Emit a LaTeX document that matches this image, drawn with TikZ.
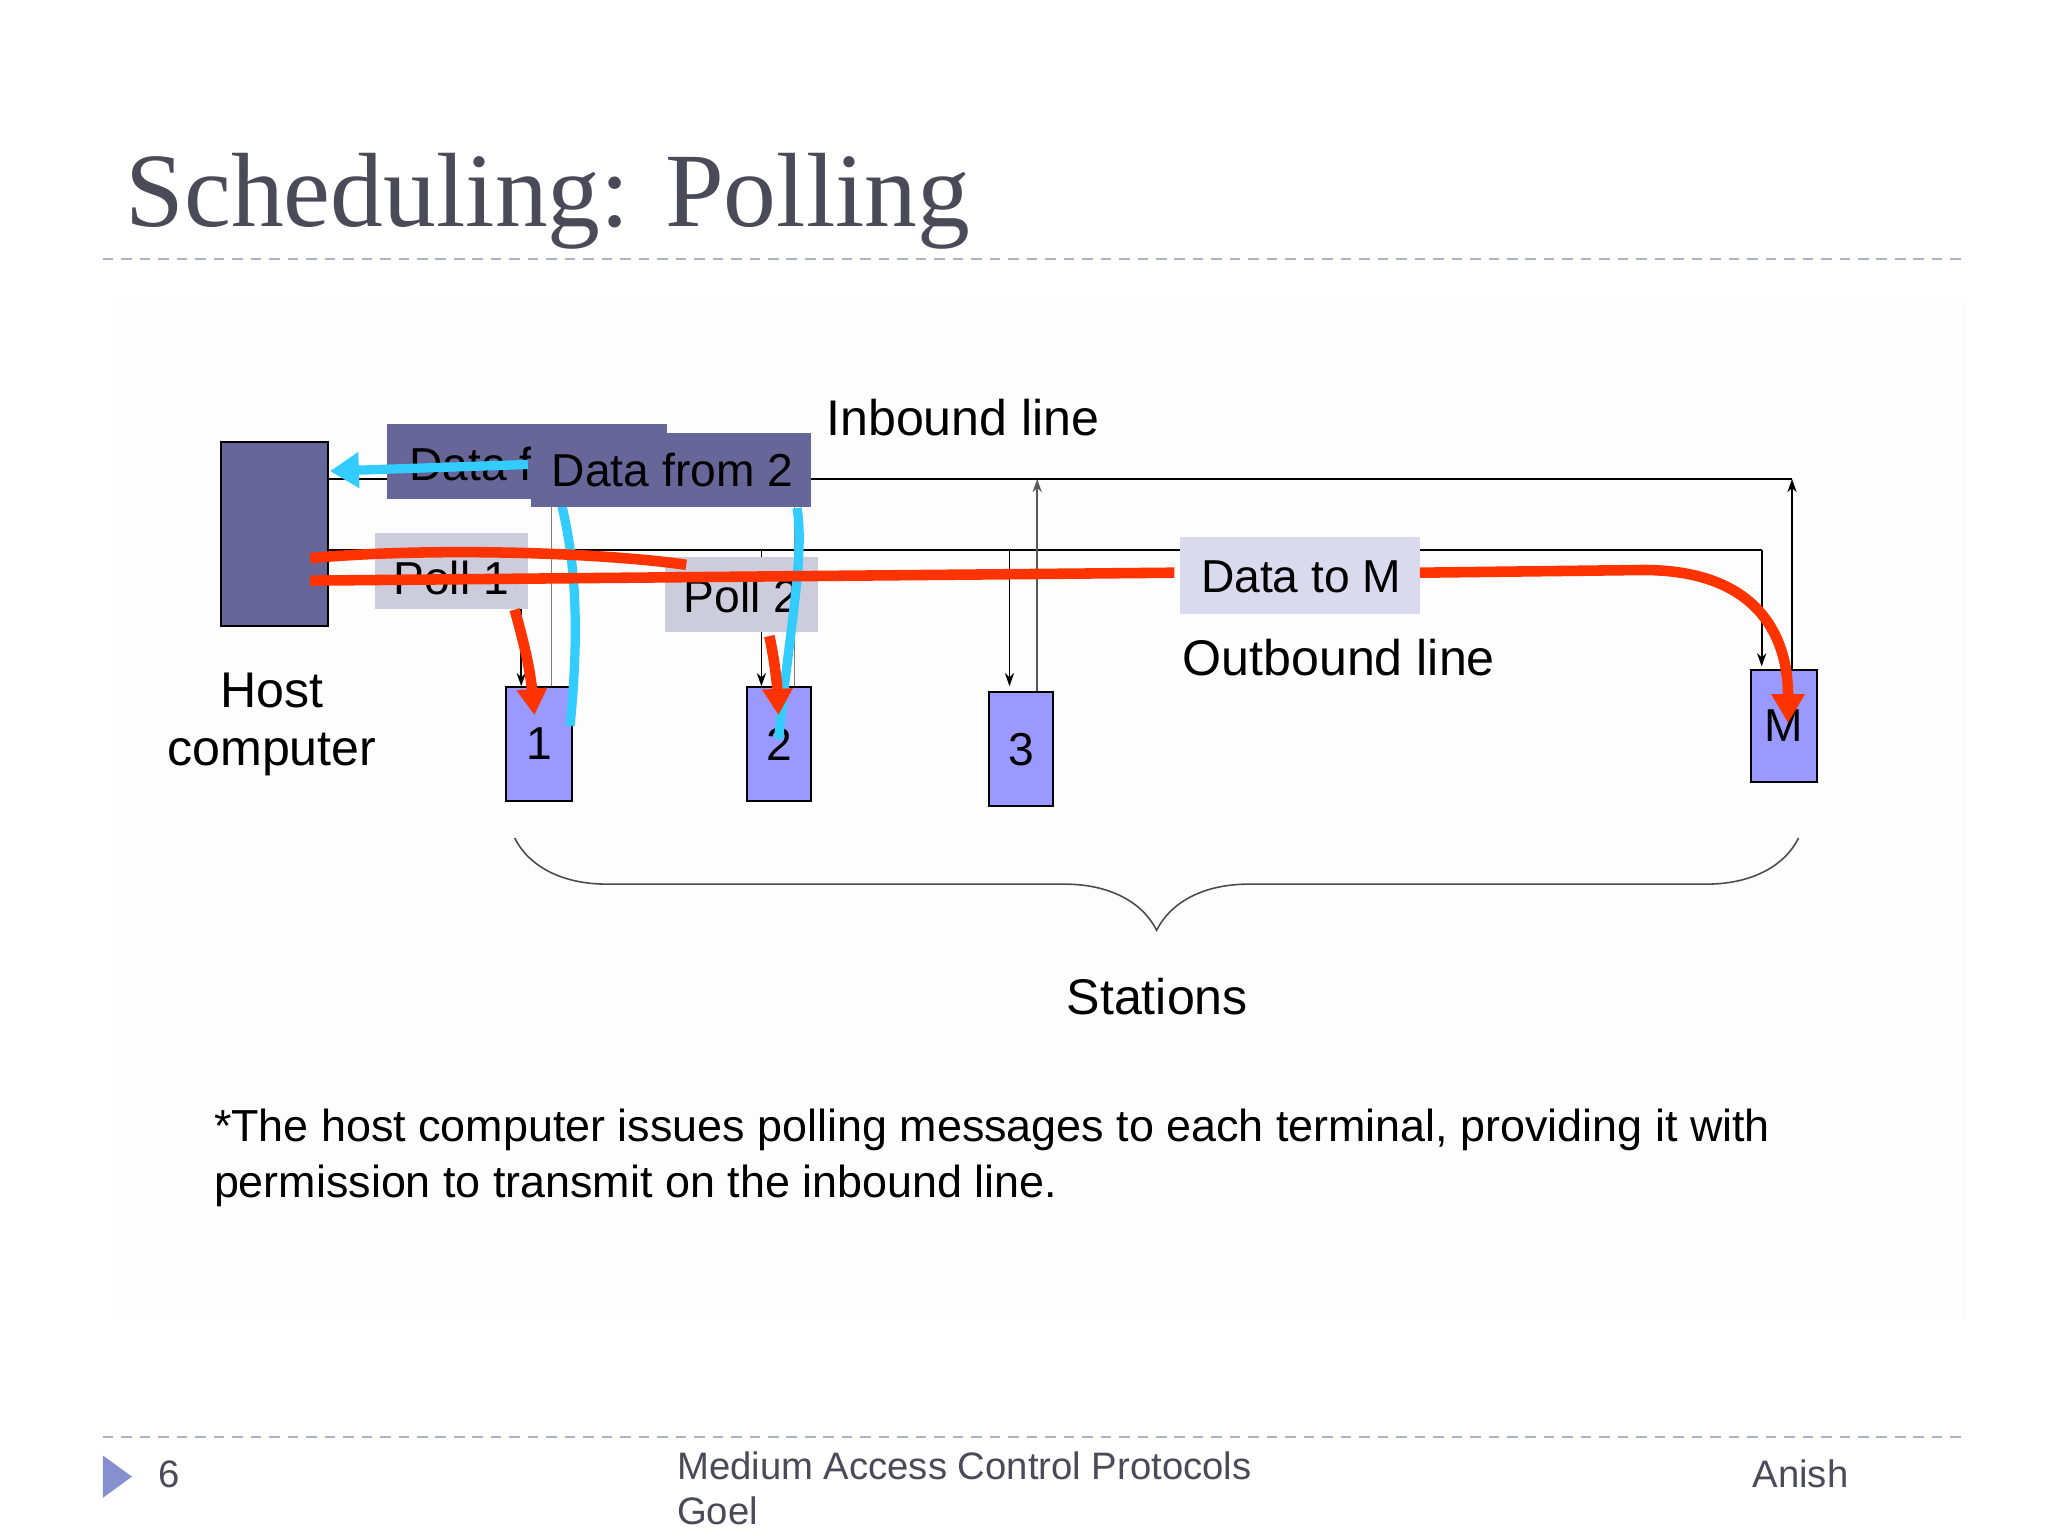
\documentclass[tikz,border=0pt]{standalone}
\usepackage{fontspec}
\setmainfont{Liberation Sans}
\newfontfamily\titlefont{Liberation Serif}
\usetikzlibrary{arrows.meta,decorations.pathreplacing}
\definecolor{hostc}{HTML}{666699}
\definecolor{stc}{HTML}{9999FF}
\definecolor{pollc}{HTML}{CCCCDD}
\definecolor{redc}{HTML}{FF3300}
\definecolor{cyanc}{HTML}{33CCFF}
\definecolor{dashc}{HTML}{A8B4C4}
\definecolor{titlec}{HTML}{4A4A58}
\begin{document}
\begin{tikzpicture}[x=1pt,y=-1pt,
  box/.style={draw=black,line width=1.5pt,inner sep=0pt,anchor=north west},
  lbl/.style={inner sep=0pt,anchor=north west},
  txt/.style={font=\fontsize{35}{40}\selectfont},
  btxt/.style={font=\fontsize{38}{46}\selectfont},
  ln/.style={line width=1.3pt},
  arr/.style={ln,-{Stealth[length=10pt,width=7pt]}},
  red/.style={redc,line width=8pt},
  cy/.style={cyanc,line width=7pt}]
\useasboundingbox (0,0) rectangle (1552,1164);
\fill[white] (0,0) rectangle (1552,1164);
\fill[black!0.8] (85,225) rectangle (1490,1000);
% title
\node[anchor=base west,inner sep=0pt,text=titlec,font=\titlefont\fontsize{80}{86}\selectfont] (title) at (95,172) {Scheduling: Polling};
\draw[dashc,line width=1.5pt,dash pattern=on 8pt off 6pt] (78,196) -- (1490,196);
% host
\node[box,fill=hostc,minimum width=81,minimum height=140] (host) at (167,334) {};
% stations
\node[box,fill=stc,minimum width=50,minimum height=86] (s1) at (383,520) {};
\node[txt] at (s1.center) {1};
\node[box,fill=stc,minimum width=49,minimum height=86] (s2) at (565,520) {};
\node[txt] at (s2.center) {2};
\node[box,fill=stc,minimum width=48,minimum height=86] (s3) at (749,524) {};
\node[txt] at (s3.center) {3};
\node[box,fill=stc,minimum width=50,minimum height=85] (sM) at (1326,507) {};
\node[txt] at (sM.center) {M};
% lines
\coordinate (inE) at (1358,363);
\coordinate (outE) at (1335,417);
\draw[ln] (host.east |- 0,363) -- (inE);
\draw[ln] (host.east |- 0,417) -- (outE);
\draw[ln,gray] (418,363) -- (418,520);
\draw[ln,gray] (602,363) -- (602,520);
\draw[arr,gray!70!black] (s3.north -| 786,0) -- (786,363);
\draw[arr] (sM.north -| 1358,0) -- (inE);
\draw[arr] (395,417) -- (395,520);
\draw[arr] (577,417) -- (577,520);
\draw[arr] (765,417) -- (765,520);
\draw[arr] (outE) -- (1335,505);
% labels
\node[lbl,fill=hostc,minimum width=212,minimum height=57] (df1) at (293,321) {};
\node[anchor=west,txt,inner sep=0pt] at (310,352) {Data f};
\node[lbl,fill=pollc,minimum width=116,minimum height=57] (p1) at (284,404) {};
\node[anchor=west,txt,inner sep=0pt] at (298,438) {Poll 1};
\node[lbl,fill=pollc,minimum width=116,minimum height=57] (p2) at (504,422) {};
\node[anchor=west,txt,inner sep=0pt] at (518,452) {Poll 2};
% cyan arrows
\draw[cy,-{Triangle[length=22pt,width=26pt]}] (400,352) -- (250,357);
\draw[cy] (432,550) .. controls (440,470) and (435,420) .. (425,380);
\draw[cy] (590,560) .. controls (598,480) and (610,420) .. (604,385);
\node[lbl,fill=hostc,minimum width=212,minimum height=56] (df2) at (402,328) {};
\node[anchor=west,txt,inner sep=0pt] at (418,356) {Data from 2};
% red
\draw[red] (235,423) .. controls (320,415) and (450,418) .. (520,428);
\draw[red] (235,440) -- (890,434);
\node[lbl,fill=pollc!80!stc!60,minimum width=182,minimum height=58] (dm) at (894,407) {};
\node[anchor=west,txt,inner sep=0pt] at (910,437) {Data to M};
\draw[red,-{Triangle[length=22pt,width=24pt]}] (1076,434) -- (1240,432) .. controls (1330,430) and (1355,480) .. (1355,548);
\draw[red,-{Triangle[length=20pt,width=22pt]}] (390,462) .. controls (398,490) and (402,510) .. (405,542);
\draw[red,-{Triangle[length=20pt,width=22pt]}] (583,482) .. controls (587,500) and (589,520) .. (590,542);
% texts
\node[btxt,align=center] (hc) at (206,549) {Host\\[-2pt]computer};
\node[btxt,anchor=base west,inner sep=0pt] (il) at (626,330) {Inbound line};
\node[btxt,anchor=base west,inner sep=0pt] (ol) at (896,512) {Outbound line};
\draw[decorate,decoration={brace,amplitude=70pt,aspect=0.5,mirror},line width=1.2pt,gray!60!black] (390,635) -- (1363,635);
\node[btxt] (stn) at (877,755) {Stations};
\node[anchor=north west,inner sep=0pt,font=\fontsize{34}{43}\selectfont,align=left] (desc) at (162,840) {*The host computer issues polling messages to each terminal, providing it with\\permission to transmit on the inbound line.};
% footer
\draw[dashc,line width=1.5pt,dash pattern=on 8pt off 6pt] (78,1089) -- (1490,1089);
\fill[dashc!80!blue] (78,1103) -- (100,1119) -- (78,1135) -- cycle;
\node[anchor=base west,inner sep=0pt,font=\fontsize{29}{36}\selectfont,text=titlec] (pg) at (120,1127) {6};
\node[anchor=north west,inner sep=0pt,font=\fontsize{29}{34}\selectfont,text=titlec,align=left] (ft) at (513,1100) {Medium Access Control Protocols\\Goel};
\node[anchor=base west,inner sep=0pt,font=\fontsize{29}{36}\selectfont,text=titlec] (au) at (1328,1127) {Anish};
\end{tikzpicture}
\end{document}
